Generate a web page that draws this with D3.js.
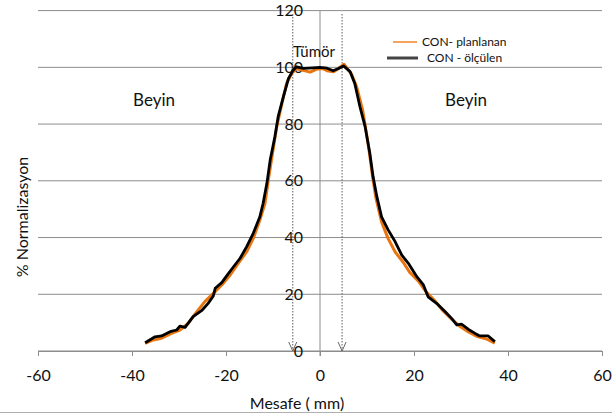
<!DOCTYPE html>
<html>
<head>
<meta charset="utf-8">
<script src="https://cdn.jsdelivr.net/npm/d3@7"></script>
<style>
  body { margin: 0; background: #fff; }
  svg { font-family: Lato, "Open Sans", sans-serif; }
  .tick text { fill: #111; }
</style>
</head>
<body>
<div id="chart"></div>
<script>
// data
var xTicks = [-60, -40, -20, 0, 20, 40, 60];
var yTicks = [0, 20, 40, 60, 80, 100, 120];

var planX = [-37.2, -35.5, -33.7, -31.6, -29.8, -28.0, -26.2, -24.5, -22.7, -20.9, -19.1, -17.4, -15.6, -14.2, -12.8, -11.7, -11.0, -10.1, -9.2, -8.1, -7.1, -6.0, -5.0, -3.8, -2.1, -0.8, 0.5, 1.5, 2.8, 3.8, 5.1, 6.7, 7.8, 9.1, 10.3, 11.2, 11.9, 13.1, 14.5, 16.0, 17.7, 19.1, 20.9, 22.7, 24.5, 26.2, 28.0, 29.8, 31.6, 33.3, 35.5, 37.2];
var planY = [2.7, 3.9, 4.5, 6.2, 7.4, 9.8, 13.9, 17.4, 20.3, 23.3, 26.8, 30.9, 35.0, 39.7, 46.2, 52.1, 60.3, 69.7, 79.1, 87.3, 94.4, 97.9, 99.5, 99.0, 98.3, 99.3, 99.6, 98.8, 98.4, 99.4, 101.1, 97.6, 93.1, 84.7, 72.4, 61.3, 53.9, 45.5, 39.6, 34.9, 31.3, 27.7, 24.7, 20.6, 17.6, 14.1, 11.2, 8.6, 6.7, 5.2, 4.2, 2.8];

var measX = [-37.2, -35.1, -33.7, -31.9, -30.5, -29.8, -28.7, -27.0, -25.2, -23.8, -22.7, -22.3, -20.9, -19.9, -18.4, -17.0, -15.6, -14.2, -12.8, -12.1, -11.3, -10.6, -9.6, -8.9, -7.8, -6.7, -5.7, -5.0, -3.5, -1.5, 0.0, 1.5, 2.8, 3.8, 5.0, 6.4, 7.4, 8.5, 9.6, 10.6, 11.3, 12.1, 13.1, 14.5, 16.0, 17.4, 18.8, 20.6, 22.0, 23.0, 24.8, 26.6, 28.0, 29.1, 30.1, 31.6, 33.0, 34.0, 35.8, 37.2];
var measY = [2.9, 5.0, 5.3, 6.8, 7.4, 8.8, 8.3, 12.1, 14.2, 16.8, 19.4, 22.1, 24.1, 26.4, 29.7, 32.7, 36.8, 41.5, 47.3, 52.1, 59.1, 67.3, 75.5, 82.6, 89.6, 96.1, 99.0, 100.2, 99.6, 99.8, 100.0, 99.7, 98.8, 99.5, 100.5, 98.5, 94.3, 86.1, 79.1, 69.7, 61.4, 54.4, 47.3, 42.7, 38.5, 33.8, 30.9, 26.2, 23.3, 19.1, 16.8, 13.9, 11.5, 9.2, 9.5, 7.6, 6.2, 5.3, 5.3, 3.3];

var arrowX = [-5.8, 4.7];
var seriesNames = ["CON- planlanan", "CON - ölçülen"];

var svgWidth = 612, svgHeight = 418;

var svg = d3.select("#chart")
    .append("svg")
    .attr("width", svgWidth)
    .attr("height", svgHeight);

var x = d3.scaleLinear().domain([-60, 60]).range([38, 602]);
var y = d3.scaleLinear().domain([0, 120]).range([351, 10.6]);

// gridlines
svg.append("g")
    .selectAll("line")
    .data(yTicks)
    .enter()
    .append("line")
    .attr("x1", x(-60))
    .attr("x2", x(60))
    .attr("y1", d => y(d))
    .attr("y2", d => y(d))
    .attr("stroke", "#8c8c8c")
    .attr("stroke-width", 1);

// x axis (plain hyphen for negatives, like the original)
var xAxis = svg.append("g")
    .attr("transform", `translate(0, ${y(0)})`)
    .call(d3.axisBottom(x).tickValues(xTicks).tickFormat(d => String(d)).tickSize(5).tickPadding(14));
xAxis.select(".domain").attr("stroke", "#8c8c8c");
xAxis.selectAll(".tick line").attr("stroke", "#8c8c8c");
xAxis.selectAll("text").attr("font-size", "16px").attr("font-family", "Lato, sans-serif");

// y axis line at x = 0
svg.append("line")
    .attr("x1", x(0)).attr("x2", x(0))
    .attr("y1", y(120)).attr("y2", y(0) + 5)
    .attr("stroke", "#8c8c8c");

// y tick labels sit just left of the axis
var yAxis = svg.append("g")
    .attr("transform", `translate(${x(0) - 17}, 0)`)
    .call(d3.axisLeft(y).tickValues(yTicks).tickSize(0).tickPadding(0));
yAxis.select(".domain").remove();
yAxis.selectAll("text").attr("font-size", "16px").attr("font-family", "Lato, sans-serif");

// dotted arrows marking tumour edges
var arrows = svg.append("g");
arrowX.forEach(function(a) {
    var ax = x(a);
    arrows.append("line")
        .attr("x1", ax).attr("x2", ax)
        .attr("y1", 14).attr("y2", y(0))
        .attr("stroke", "#777")
        .attr("stroke-width", 1.2)
        .attr("stroke-dasharray", "1.5,1.5");
    arrows.append("path")
        .attr("d", `M${ax - 4},${y(0) - 9} L${ax},${y(0)} L${ax + 4},${y(0) - 9}`)
        .attr("fill", "none")
        .attr("stroke", "#666")
        .attr("stroke-width", 1);
});

// curves
var line = d3.line()
    .x(d => x(d[0]))
    .y(d => y(d[1]));

svg.append("path")
    .datum(d3.zip(planX, planY))
    .attr("d", line)
    .attr("fill", "none")
    .attr("stroke", "#e8750f")
    .attr("stroke-width", 3)
    .attr("stroke-linejoin", "round");

svg.append("path")
    .datum(d3.zip(measX, measY))
    .attr("d", line)
    .attr("fill", "none")
    .attr("stroke", "#000")
    .attr("stroke-width", 2.8)
    .attr("stroke-linejoin", "round");

// text labels
svg.append("text")
    .attr("x", 154).attr("y", 106)
    .attr("text-anchor", "middle")
    .attr("font-size", "17px")
    .attr("fill", "#111")
    .text("Beyin");

svg.append("text")
    .attr("x", 466).attr("y", 106)
    .attr("text-anchor", "middle")
    .attr("font-size", "17px")
    .attr("fill", "#111")
    .text("Beyin");

svg.append("text")
    .attr("x", 314).attr("y", 57)
    .attr("text-anchor", "middle")
    .attr("font-size", "15px")
    .attr("fill", "#111")
    .text("Tümör");

// legend
var legendColors = ["#f4a460", "#444"];
var legendY = [42, 58];
var legendLineX = [[393, 417], [387, 418]];
var legendTextX = [422, 427];
seriesNames.forEach(function(name, i) {
    svg.append("line")
        .attr("x1", legendLineX[i][0]).attr("x2", legendLineX[i][1])
        .attr("y1", legendY[i]).attr("y2", legendY[i])
        .attr("stroke", legendColors[i])
        .attr("stroke-width", i === 0 ? 2 : 3);
    svg.append("text")
        .attr("x", legendTextX[i]).attr("y", legendY[i] + 4)
        .attr("font-size", "12px")
        .attr("fill", "#111")
        .text(name);
});

// axis titles
svg.append("text")
    .attr("transform", "translate(28, 217) rotate(-90)")
    .attr("text-anchor", "middle")
    .attr("font-size", "16px")
    .attr("fill", "#111")
    .text("% Normalizasyon");

svg.append("text")
    .attr("x", 297).attr("y", 409)
    .attr("text-anchor", "middle")
    .attr("font-size", "16px")
    .attr("fill", "#111")
    .text("Mesafe ( mm)");

// faint border line at the bottom of the crop
svg.append("line")
    .attr("x1", 0).attr("x2", svgWidth)
    .attr("y1", 412.5).attr("y2", 412.5)
    .attr("stroke", "#b0b0b0");
</script>
</body>
</html>
